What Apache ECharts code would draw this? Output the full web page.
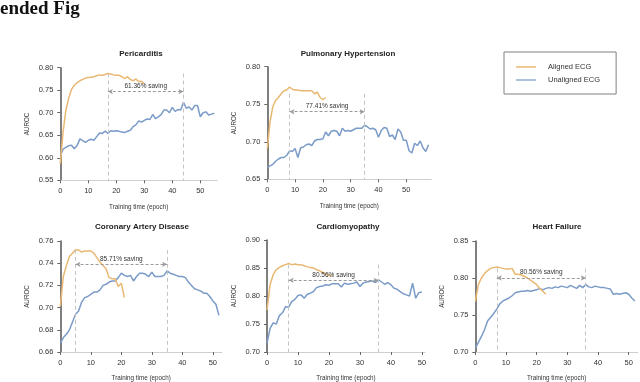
<!DOCTYPE html>
<html>
<head>
<meta charset="utf-8">
<script src="https://cdn.jsdelivr.net/npm/echarts@6/dist/echarts.min.js"></script>
<style>
  html, body { margin: 0; padding: 0; background: #fff; }
  #chart { width: 640px; height: 382px; }
</style>
</head>
<body>
<div id="chart"></div>
<script>
// AUROC per epoch (index = epoch)
const pericarditisAligned = [0.587, 0.658, 0.706, 0.732, 0.752, 0.761, 0.767, 0.771, 0.774, 0.777, 0.778, 0.779, 0.780, 0.782, 0.784, 0.783, 0.785, 0.787, 0.786, 0.784, 0.783, 0.783, 0.780, 0.776, 0.780, 0.774, 0.771, 0.775, 0.769, 0.770, 0.764];
const pericarditisUnaligned = [0.604, 0.619, 0.623, 0.627, 0.628, 0.620, 0.627, 0.642, 0.638, 0.634, 0.639, 0.641, 0.639, 0.647, 0.655, 0.654, 0.659, 0.654, 0.660, 0.659, 0.660, 0.659, 0.657, 0.656, 0.659, 0.661, 0.669, 0.673, 0.682, 0.679, 0.683, 0.686, 0.685, 0.696, 0.687, 0.691, 0.696, 0.706, 0.706, 0.700, 0.712, 0.703, 0.707, 0.706, 0.723, 0.710, 0.713, 0.706, 0.716, 0.716, 0.691, 0.700, 0.702, 0.695, 0.697, 0.699];

const pulmonaryAligned = [0.691, 0.727, 0.747, 0.755, 0.759, 0.764, 0.768, 0.769, 0.773, 0.770, 0.769, 0.769, 0.768, 0.768, 0.768, 0.768, 0.768, 0.764, 0.766, 0.759, 0.756, 0.759];
const pulmonaryUnaligned = [0.666, 0.668, 0.670, 0.674, 0.677, 0.679, 0.679, 0.682, 0.688, 0.687, 0.691, 0.679, 0.692, 0.693, 0.696, 0.697, 0.695, 0.701, 0.703, 0.703, 0.704, 0.713, 0.708, 0.714, 0.715, 0.714, 0.708, 0.718, 0.714, 0.715, 0.714, 0.716, 0.718, 0.718, 0.718, 0.722, 0.720, 0.717, 0.718, 0.716, 0.706, 0.715, 0.719, 0.718, 0.707, 0.709, 0.703, 0.717, 0.713, 0.702, 0.702, 0.688, 0.685, 0.698, 0.695, 0.701, 0.692, 0.687, 0.696];

const coronaryAligned = [0.701, 0.728, 0.738, 0.746, 0.749, 0.752, 0.752, 0.750, 0.751, 0.751, 0.751, 0.749, 0.745, 0.741, 0.738, 0.735, 0.727, 0.726, 0.726, 0.719, 0.722, 0.709];
const coronaryUnaligned = [0.668, 0.673, 0.676, 0.680, 0.687, 0.694, 0.697, 0.705, 0.709, 0.710, 0.712, 0.714, 0.714, 0.716, 0.720, 0.721, 0.723, 0.724, 0.724, 0.727, 0.731, 0.729, 0.728, 0.729, 0.724, 0.728, 0.731, 0.731, 0.730, 0.728, 0.732, 0.728, 0.728, 0.728, 0.729, 0.733, 0.731, 0.730, 0.729, 0.728, 0.728, 0.727, 0.723, 0.720, 0.717, 0.716, 0.715, 0.713, 0.713, 0.710, 0.706, 0.703, 0.693];

const cardiomyopathyAligned = [0.775, 0.820, 0.838, 0.847, 0.851, 0.854, 0.856, 0.858, 0.856, 0.857, 0.856, 0.856, 0.854, 0.852, 0.851, 0.850, 0.847, 0.845, 0.842, 0.839, 0.837, 0.835];
const cardiomyopathyUnaligned = [0.716, 0.742, 0.752, 0.750, 0.765, 0.770, 0.781, 0.780, 0.790, 0.794, 0.801, 0.802, 0.796, 0.803, 0.805, 0.808, 0.815, 0.817, 0.818, 0.820, 0.819, 0.822, 0.822, 0.822, 0.816, 0.823, 0.821, 0.822, 0.823, 0.825, 0.817, 0.823, 0.825, 0.826, 0.827, 0.824, 0.829, 0.825, 0.821, 0.824, 0.820, 0.814, 0.812, 0.808, 0.804, 0.802, 0.800, 0.823, 0.796, 0.806, 0.807];

const heartFailureAligned = [0.768, 0.791, 0.800, 0.806, 0.810, 0.813, 0.814, 0.815, 0.814, 0.813, 0.812, 0.812, 0.813, 0.805, 0.805, 0.804, 0.802, 0.800, 0.797, 0.794, 0.791, 0.786, 0.782, 0.778];
const heartFailureUnaligned = [0.705, 0.713, 0.721, 0.730, 0.742, 0.747, 0.752, 0.758, 0.765, 0.769, 0.771, 0.773, 0.776, 0.780, 0.781, 0.782, 0.782, 0.783, 0.782, 0.783, 0.784, 0.786, 0.784, 0.786, 0.787, 0.786, 0.788, 0.787, 0.789, 0.788, 0.787, 0.790, 0.788, 0.786, 0.790, 0.787, 0.791, 0.788, 0.787, 0.789, 0.788, 0.787, 0.787, 0.786, 0.785, 0.778, 0.779, 0.778, 0.779, 0.780, 0.778, 0.773, 0.769];

const panelTitles = ['Pericarditis', 'Pulmonary Hypertension', 'Coronary Artery Disease', 'Cardiomyopathy', 'Heart Failure'];
const savingText = ['61.36% saving', '77.41% saving', '85.71% saving', '80.56% saving', '80.56% saving'];
const savingFrom = [17, 8, 5, 7, 7];   // epoch where aligned peaks
const savingTo = [44, 35, 35, 36, 36];  // epoch where unaligned peaks
const markTop = [0.787, 0.764, 0.752, 0.856, 0.813];
const arrowLevel = [0.747, 0.740, 0.739, 0.828, 0.800];
const yRanges = [[0.55, 0.80, 0.05], [0.65, 0.80, 0.05], [0.66, 0.76, 0.02], [0.70, 0.90, 0.05], [0.70, 0.85, 0.05]];
const xTickValues = [0, 10, 20, 30, 40, 50];

const alignedSets = [pericarditisAligned, pulmonaryAligned, coronaryAligned, cardiomyopathyAligned, heartFailureAligned];
const unalignedSets = [pericarditisUnaligned, pulmonaryUnaligned, coronaryUnaligned, cardiomyopathyUnaligned, heartFailureUnaligned];

// layout of the five plot boxes
const boxes = [
  { left: 60.3, top: 67.7, width: 156.8, height: 112.6, xMax: 56, titleX: 141, titleY: 50, nameGap: 24 },
  { left: 267.3, top: 66.7, width: 164, height: 112.6, xMax: 59, titleX: 348, titleY: 50, nameGap: 24 },
  { left: 60.3, top: 241, width: 161.7, height: 111.5, xMax: 53, titleX: 142, titleY: 223, nameGap: 23 },
  { left: 267, top: 240, width: 158, height: 112.3, xMax: 51, titleX: 348, titleY: 223, nameGap: 23 },
  { left: 475.3, top: 241, width: 162.6, height: 111, xMax: 53, titleX: 557, titleY: 223, nameGap: 23 }
];

const ORANGE = '#E9B872';
const BLUE = '#7B9BC8';
const toPairs = arr => arr.map((v, i) => [i, v]);

const chart = echarts.init(document.getElementById('chart'), null, { renderer: 'canvas' });

const titles = [{
  text: 'ended Fig', left: 0, top: 0, padding: 0,
  textStyle: { fontFamily: 'Liberation Serif', fontWeight: 'bold', fontSize: 19, color: '#111' }
}];
boxes.forEach((b, i) => {
  titles.push({
    text: panelTitles[i], left: b.titleX, top: b.titleY, padding: 0, textAlign: 'center',
    textStyle: { fontFamily: 'Liberation Sans', fontWeight: 'bold', fontSize: 8, color: '#222' }
  });
});

const series = [];
boxes.forEach((b, i) => {
  const yMin = yRanges[i][0];
  const dashV = { color: '#c4c4c4', type: [4, 3], width: 1 };
  series.push({
    name: 'Unaligned ECG', type: 'line', xAxisIndex: i, yAxisIndex: i,
    data: toPairs(unalignedSets[i]), showSymbol: false, symbol: 'none',
    lineStyle: { color: BLUE, width: 1.5 }, itemStyle: { color: BLUE },
    markLine: {
      silent: true, animation: false, symbol: ['none', 'none'],
      data: [
        [{ coord: [savingFrom[i], markTop[i]], lineStyle: dashV, label: { show: false } }, { coord: [savingFrom[i], yMin] }],
        [{ coord: [savingTo[i], markTop[i]], lineStyle: dashV, label: { show: false } }, { coord: [savingTo[i], yMin] }],
        [{
          coord: [savingFrom[i], arrowLevel[i]], symbol: 'arrow', symbolSize: [4, 5],
          lineStyle: { color: '#9a9a9a', type: [3, 2], width: 1 },
          label: { show: true, position: 'middle', formatter: savingText[i], fontSize: 6.5, color: '#333', distance: 2, fontFamily: 'Liberation Sans' }
        }, { coord: [savingTo[i], arrowLevel[i]], symbol: 'arrow', symbolSize: [4, 5] }]
      ]
    }
  });
  series.push({
    name: 'Aligned ECG', type: 'line', xAxisIndex: i, yAxisIndex: i,
    data: toPairs(alignedSets[i]), showSymbol: false, symbol: 'none',
    lineStyle: { color: ORANGE, width: 1.5 }, itemStyle: { color: ORANGE }
  });
});

const option = {
  animation: false,
  textStyle: { fontFamily: 'Liberation Sans' },
  title: titles,
  legend: {
    orient: 'vertical', left: 504, top: 52,
    padding: [10, 16, 9, 12], itemGap: 3, itemWidth: 20, itemHeight: 2,
    borderColor: '#808080', borderWidth: 1,
    icon: 'rect',
    data: [
      { name: 'Aligned ECG', itemStyle: { color: '#EFCB98' } },
      { name: 'Unaligned ECG', itemStyle: { color: '#AEC1DC' } }
    ],
    textStyle: { fontSize: 7.5, color: '#333', padding: [0, 0, 0, 7], lineHeight: 10 }
  },
  grid: boxes.map(b => ({ left: b.left, top: b.top, width: b.width, height: b.height, containLabel: false })),
  xAxis: boxes.map((b, i) => ({
    gridIndex: i, type: 'value', min: 0, max: b.xMax, interval: 10,
    name: 'Training time (epoch)', nameLocation: 'middle', nameGap: b.nameGap,
    nameTextStyle: { fontSize: 6.3, color: '#333' },
    axisLine: { show: true, lineStyle: { color: '#cfcfcf', width: 1 } },
    axisTick: { show: true, length: 3, lineStyle: { color: '#666' }, customValues: xTickValues },
    axisLabel: { fontSize: 7.5, color: '#333', margin: 7, customValues: xTickValues },
    splitLine: { show: false }
  })),
  yAxis: boxes.map((b, i) => ({
    gridIndex: i, type: 'value', min: yRanges[i][0], max: yRanges[i][1], interval: yRanges[i][2],
    name: 'AUROC', nameLocation: 'middle', nameGap: 30, nameRotate: 90,
    nameTextStyle: { fontSize: 6.3, color: '#333' },
    axisLine: { show: true, lineStyle: { color: '#555', width: 1.5 } },
    axisTick: { show: true, length: 3, lineStyle: { color: '#666' } },
    axisLabel: { fontSize: 7.5, color: '#333', margin: 7, formatter: v => v.toFixed(2) },
    splitLine: { show: false }
  })),
  series: series
};

chart.setOption(option);
</script>
</body>
</html>
